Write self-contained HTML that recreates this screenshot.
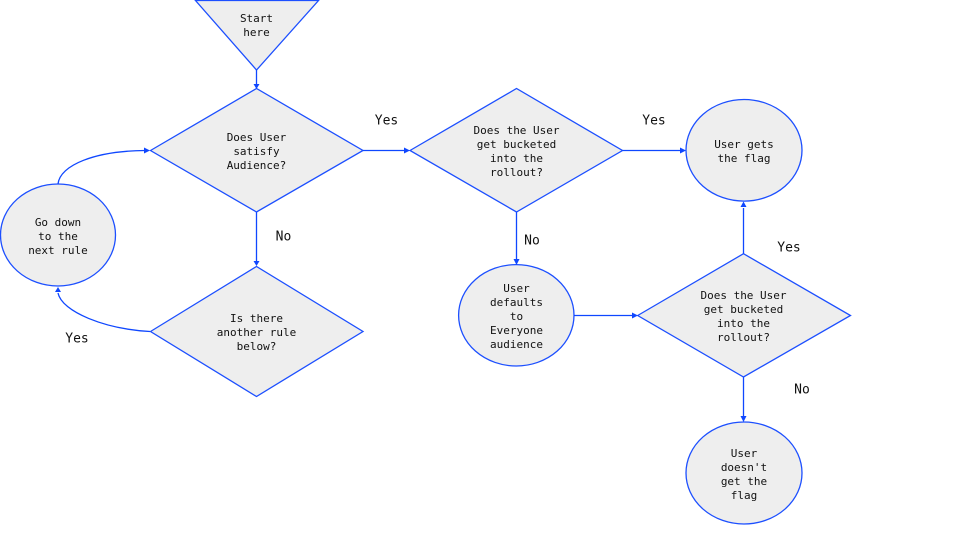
<!DOCTYPE html>
<html><head><meta charset="utf-8"><style>
html,body{margin:0;padding:0;background:#fff}
svg{display:block}
.s{fill:#eeeeee;stroke:#1c4fff;stroke-width:1.3}
.l{fill:none;stroke:#0f47ff;stroke-width:1.3}
.a{fill:#0f47ff;stroke:none}
text{font-family:"DejaVu Sans Mono","Liberation Mono",monospace;fill:#111;text-anchor:middle}
.t{font-size:11px}
.b{font-size:13px}
</style></head><body>
<svg width="960" height="540" viewBox="0 0 960 540" xmlns="http://www.w3.org/2000/svg">
<rect width="960" height="540" fill="#fff"/>
<polygon class="s" points="195.5,0.5 318.5,0.5 256.5,70"/>
<polygon class="s" points="150.5,150.5 256.5,88.5 363,150.5 256.5,212"/>
<polygon class="s" points="150.5,331.5 256.5,266.5 363,331.5 256.5,396.5"/>
<polygon class="s" points="410,150.5 516.5,88.5 622.5,150.5 516.5,212"/>
<polygon class="s" points="637.7,315.5 743.5,253.7 850.5,315.5 743.5,377"/>
<ellipse class="s" cx="58" cy="235" rx="57.5" ry="51"/>
<ellipse class="s" cx="744" cy="150.3" rx="58" ry="50.8"/>
<ellipse class="s" cx="516.3" cy="315.3" rx="57.7" ry="50.7"/>
<ellipse class="s" cx="744" cy="473" rx="58" ry="51"/>

<path class="l" d="M256.5 70V84"/><polygon class="a" points="253.5,84 259.5,84 256.5,89"/>
<path class="l" d="M256.5 212V262"/><polygon class="a" points="253.5,261 259.5,261 256.5,266"/>
<path class="l" d="M58 184C60 165 95 151 145 150.5"/><polygon class="a" points="144,147.5 144,153.5 150,150.5"/>
<path class="l" d="M150 331.5C105 329 62 312 58 293"/><polygon class="a" points="55,292 61,292 58,287"/>
<path class="l" d="M363 150.5H405"/><polygon class="a" points="404,147.5 404,153.5 410,150.5"/>
<path class="l" d="M622.5 150.5H681"/><polygon class="a" points="680,147.5 680,153.5 686,150.5"/>
<path class="l" d="M516.5 212V260"/><polygon class="a" points="513.5,259 519.5,259 516.5,265"/>
<path class="l" d="M574 315.5H633"/><polygon class="a" points="632,312.5 632,318.5 638,315.5"/>
<path class="l" d="M743.5 253.7V208"/><polygon class="a" points="740.5,207 746.5,207 743.5,201.5"/>
<path class="l" d="M743.5 377V417"/><polygon class="a" points="740.5,416 746.5,416 743.5,422"/>

<g class="t">
<text x="256.5" y="22">Start</text><text x="256.5" y="36">here</text>
<text x="256.5" y="141">Does User</text><text x="256.5" y="155">satisfy</text><text x="256.5" y="169">Audience?</text>
<text x="58" y="226">Go down</text><text x="58" y="240">to the</text><text x="58" y="254">next rule</text>
<text x="256.5" y="322">Is there</text><text x="256.5" y="336">another rule</text><text x="256.5" y="350">below?</text>
<text x="516.5" y="134">Does the User</text><text x="516.5" y="148">get bucketed</text><text x="516.5" y="162">into the</text><text x="516.5" y="176">rollout?</text>
<text x="744" y="148">User gets</text><text x="744" y="162">the flag</text>
<text x="516.5" y="292">User</text><text x="516.5" y="306">defaults</text><text x="516.5" y="320">to</text><text x="516.5" y="334">Everyone</text><text x="516.5" y="348">audience</text>
<text x="743.5" y="299">Does the User</text><text x="743.5" y="313">get bucketed</text><text x="743.5" y="327">into the</text><text x="743.5" y="341">rollout?</text>
<text x="744" y="457">User</text><text x="744" y="471">doesn't</text><text x="744" y="485">get the</text><text x="744" y="499">flag</text>
</g>
<g class="b">
<text x="386.5" y="124.5">Yes</text>
<text x="654" y="124.5">Yes</text>
<text x="283.5" y="240.5">No</text>
<text x="532" y="244.5">No</text>
<text x="77" y="342.5">Yes</text>
<text x="789" y="251.5">Yes</text>
<text x="802" y="393.5">No</text>
</g>
</svg>
</body></html>
